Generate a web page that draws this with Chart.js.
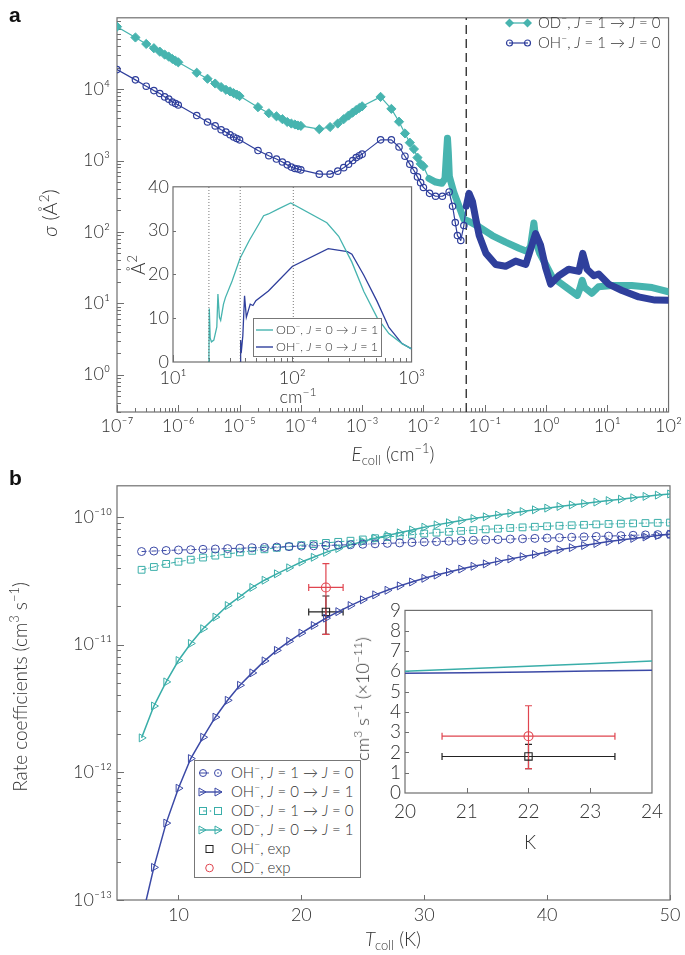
<!DOCTYPE html>
<html>
<head>
<meta charset="utf-8">
<script src="https://cdn.jsdelivr.net/npm/chart.js@4.4.1/dist/chart.umd.min.js"></script>
<style>
  body { margin: 0; background: #fff; }
  #page { position: relative; width: 685px; height: 955px; overflow: hidden; font-family: Lato, "Open Sans", sans-serif; font-weight: 300; color: #333; }
  canvas { position: absolute; }
  .lab { position: absolute; white-space: nowrap; line-height: 1; transform: translate(-50%, -50%); }
  .rot { transform: translate(-50%, -50%) rotate(-90deg); }
  .panel { position: absolute; font: bold 21px "Liberation Sans", Arial, sans-serif; color: #111; }
  .row { position: absolute; display: flex; align-items: center; white-space: nowrap; line-height: 1; }
  .row svg { flex: none; }
  .box { position: absolute; border: 1px solid #777; background: #fff; }
  sup, sub { font-size: 68%; line-height: 0; }
</style>
</head>
<body>
<div id="page">
  <canvas id="cA" width="685" height="470" style="left:0;top:0"></canvas>
  <canvas id="cAi" width="310" height="240" style="left:120px;top:172px"></canvas>
  <canvas id="cB" width="685" height="485" style="left:0;top:470px"></canvas>
  <canvas id="cBi" width="295" height="240" style="left:375px;top:595px"></canvas>

  <div class="panel" style="left:9px;top:3px">a</div>
  <div class="panel" style="left:9px;top:466px">b</div>

  <!-- panel a titles -->
  <div class="lab rot" style="left:49px;top:213px;font-size:20px"><i>σ</i> (Å<sup>2</sup>)</div>
  <div class="lab" style="left:393px;top:453px;font-size:19px"><i>E</i><sub>coll</sub> (cm<sup>−1</sup>)</div>
  <div class="row" style="left:505px;top:15px;font-size:15px">
    <svg width="28" height="12"><line x1="4.5" y1="6" x2="22.5" y2="6" stroke="#47b4af" stroke-width="1.3"/><polygon points="4.5,1.5 9,6 4.5,10.5 0,6" fill="#47b4af"/><polygon points="22.5,1.5 27,6 22.5,10.5 18,6" fill="#47b4af"/></svg>
    <span style="margin-left:5px">OD<sup>−</sup>, <i>J</i> = 1 → <i>J</i> = 0</span>
  </div>
  <div class="row" style="left:505px;top:35px;font-size:15px">
    <svg width="28" height="12"><line x1="4" y1="6" x2="23" y2="6" stroke="#2f3f9c" stroke-width="1.2"/><circle cx="4.5" cy="6" r="3" fill="none" stroke="#2f3f9c" stroke-width="1.2"/><circle cx="22.5" cy="6" r="3" fill="none" stroke="#2f3f9c" stroke-width="1.2"/></svg>
    <span style="margin-left:5px">OH<sup>−</sup>, <i>J</i> = 1 → <i>J</i> = 0</span>
  </div>

  <!-- inset a titles and legend -->
  <div class="lab rot" style="left:137px;top:265px;font-size:19px">Å<sup>2</sup></div>
  <div class="lab" style="left:298px;top:396px;font-size:18px">cm<sup>−1</sup></div>
  <div class="box" style="left:253px;top:318px;width:127px;height:37px"></div>
  <div class="row" style="left:256px;top:324px;font-size:12.5px">
    <svg width="17" height="8"><line x1="0" y1="4" x2="17" y2="4" stroke="#47b4af" stroke-width="1.4"/></svg>
    <span style="margin-left:3px">OD<sup>−</sup>, <i>J</i> = 0 → <i>J</i> = 1</span>
  </div>
  <div class="row" style="left:256px;top:341px;font-size:12.5px">
    <svg width="17" height="8"><line x1="0" y1="4" x2="17" y2="4" stroke="#2f3f9c" stroke-width="1.4"/></svg>
    <span style="margin-left:3px">OH<sup>−</sup>, <i>J</i> = 0 → <i>J</i> = 1</span>
  </div>

  <!-- panel b titles and legend -->
  <div class="lab rot" style="left:19px;top:687px;font-size:19px">Rate coefficients (cm<sup>3</sup> s<sup>−1</sup>)</div>
  <div class="lab" style="left:393px;top:938px;font-size:19px"><i>T</i><sub>coll</sub> (K)</div>
  <div class="box" style="left:194px;top:760px;width:165px;height:116px"></div>
  <div class="row" style="left:198px;top:765px;font-size:15px">
    <svg width="26" height="12"><line x1="1" y1="6" x2="11" y2="6" stroke="#3b49a6" stroke-width="1"/><circle cx="5" cy="6" r="3.5" fill="none" stroke="#3b49a6"/><circle cx="20" cy="6" r="3.5" fill="none" stroke="#3b49a6"/><circle cx="20" cy="6" r="0.8" fill="#3b49a6"/></svg>
    <span style="margin-left:7px">OH<sup>−</sup>, <i>J</i> = 1 → <i>J</i> = 0</span>
  </div>
  <div class="row" style="left:198px;top:784px;font-size:15px">
    <svg width="26" height="12"><line x1="2" y1="6" x2="24" y2="6" stroke="#3b49a6" stroke-width="1.4"/><polygon points="1,2 8,6 1,10" fill="none" stroke="#3b49a6"/><polygon points="17,2 24,6 17,10" fill="none" stroke="#3b49a6"/></svg>
    <span style="margin-left:7px">OH<sup>−</sup>, <i>J</i> = 0 → <i>J</i> = 1</span>
  </div>
  <div class="row" style="left:198px;top:803px;font-size:15px">
    <svg width="26" height="12"><rect x="1.5" y="2.5" width="7" height="7" fill="none" stroke="#3aaea9"/><line x1="5" y1="6" x2="9" y2="6" stroke="#3aaea9"/><circle cx="12.5" cy="6" r="0.8" fill="#3aaea9"/><rect x="16.5" y="2.5" width="7" height="7" fill="none" stroke="#3aaea9"/></svg>
    <span style="margin-left:7px">OD<sup>−</sup>, <i>J</i> = 1 → <i>J</i> = 0</span>
  </div>
  <div class="row" style="left:198px;top:822px;font-size:15px">
    <svg width="26" height="12"><line x1="2" y1="6" x2="24" y2="6" stroke="#3aaea9" stroke-width="1.4"/><polygon points="1,2 8,6 1,10" fill="none" stroke="#3aaea9"/><polygon points="17,2 24,6 17,10" fill="none" stroke="#3aaea9"/></svg>
    <span style="margin-left:7px">OD<sup>−</sup>, <i>J</i> = 0 → <i>J</i> = 1</span>
  </div>
  <div class="row" style="left:198px;top:841px;font-size:15px">
    <svg width="26" height="12"><rect x="8" y="2.5" width="7" height="7" fill="none" stroke="#222"/></svg>
    <span style="margin-left:7px">OH<sup>−</sup>, exp</span>
  </div>
  <div class="row" style="left:198px;top:860px;font-size:15px">
    <svg width="26" height="12"><circle cx="11.5" cy="6" r="3.8" fill="none" stroke="#e0454f"/></svg>
    <span style="margin-left:7px">OD<sup>−</sup>, exp</span>
  </div>

  <!-- inset b titles -->
  <div class="lab rot" style="left:362px;top:699px;font-size:18px">cm<sup>3</sup> s<sup>−1</sup> (×10<sup>−11</sup>)</div>
  <div class="lab" style="left:530px;top:841px;font-size:19px">K</div>
</div>

<script>
// ---- panel a: cross sections, J = 1 -> J = 0 (cm^-1, Å^2)
const odE = [1e-7, 2e-7, 3e-7, 4e-7, 5e-7, 6e-7, 7e-7, 8e-7, 9e-7,
  1e-6, 2e-6, 3e-6, 4e-6, 5e-6, 6e-6, 7e-6, 8e-6, 9e-6,
  1e-5, 2e-5, 3e-5, 4e-5, 5e-5, 6e-5, 7e-5, 8e-5, 9e-5,
  1e-4, 2e-4, 3e-4, 4e-4, 5e-4, 6e-4, 7e-4, 8e-4, 9e-4,
  1e-3, 2e-3, 3e-3, 4e-3, 5e-3, 6e-3, 7e-3, 8e-3, 9e-3,
  0.01, 0.0123, 0.0158, 0.02, 0.0225, 0.024, 0.0247, 0.0255, 0.0265, 0.0316, 0.038, 0.0457,
  0.056, 0.081, 0.133, 0.219, 0.363, 0.495, 0.56, 0.635, 0.69, 0.79, 0.99, 1.26, 2.09,
  3.24, 3.55, 3.9, 4.27, 5.6, 7.2, 12, 25, 54, 100];
const odSigma = [75000, 53000, 43000, 37500, 33500, 30500, 28500, 26500, 25000,
  23800, 17000, 14000, 12000, 10700, 9800, 9300, 8800, 8400,
  8000, 5600, 4600, 4170, 3800, 3470, 3300, 3200, 3100,
  3060, 2750, 2950, 3300, 3800, 4270, 4700, 5100, 5450,
  5750, 7800, 5300, 3500, 2400, 1780, 1450, 1100, 900,
  830, 560, 500, 480, 560, 1400, 2050, 1300, 600, 350, 230, 150,
  140, 118, 89, 72, 59, 53, 63, 133, 71, 50, 35, 23.4, 17,
  12.9, 15.8, 21, 16.6, 13.8, 17, 17.8, 17.8, 16.6, 14.5];
const ohE = [1e-7, 2e-7, 3e-7, 4e-7, 5e-7, 6e-7, 7e-7, 8e-7, 9e-7,
  1e-6, 2e-6, 3e-6, 4e-6, 5e-6, 6e-6, 7e-6, 8e-6, 9e-6,
  1e-5, 2e-5, 3e-5, 4e-5, 5e-5, 6e-5, 7e-5, 8e-5, 9e-5,
  1e-4, 2e-4, 3e-4, 4e-4, 5e-4, 6e-4, 7e-4, 8e-4, 9e-4,
  1e-3, 2e-3, 3e-3, 4e-3, 5e-3, 6e-3, 7e-3, 8e-3, 9e-3,
  0.01, 0.0126, 0.0158, 0.0204, 0.0263, 0.0299, 0.0331, 0.0359, 0.0407, 0.0457, 0.05,
  0.0556, 0.063, 0.0716, 0.0813, 0.105, 0.151, 0.219, 0.32, 0.468, 0.676, 0.813, 0.986,
  1.19, 1.62, 2.34, 3.43, 3.98, 4.68, 6.03, 7.24, 10.5, 17.4, 32.4, 60, 100];
const ohSigma = [18800, 13500, 11000, 9550, 8700, 7800, 7250, 6600, 6300,
  6000, 4270, 3470, 3060, 2700, 2500, 2300, 2140, 2040,
  1950, 1380, 1170, 1050, 955, 870, 810, 775, 760,
  740, 645, 645, 710, 795, 890, 1000, 1100, 1170,
  1230, 1950, 1950, 1550, 1150, 890, 725, 590, 490,
  420, 347, 316, 316, 363, 229, 135, 89, 76, 123, 229,
  347, 269, 151, 89, 50, 35, 33, 39, 35, 95, 66, 31.6,
  18.6, 24.3, 30, 28, 50, 30, 24.3, 25.7, 18.6, 15.1, 12.3, 11.1, 11];
const thresholdE = 0.05;
const aDecadesX = [1e-7, 1e-6, 1e-5, 1e-4, 1e-3, 1e-2, 1e-1, 1, 10, 100];
const aDecadesY = [1, 10, 100, 1000, 10000];

// ---- inset a: J = 0 -> J = 1 (cm^-1, Å^2)
const insetOdE = [20, 20.15, 20.5, 21, 22, 23.3, 23.8, 24.5, 25.1, 26.5, 27.5, 31.3, 36.5, 43.7,
  52.5, 57.5, 63.1, 75.9, 97, 195, 245, 316, 398, 513, 646, 832, 1000];
const insetOdSigma = [0, 12.2, 5.5, 4.6, 5, 8, 15.5, 10.2, 9.5, 13.2, 14.7, 18.5, 23.7, 27.8,
  31.5, 33.4, 33.8, 34.9, 36.3, 31.8, 28.7, 22.8, 16.1, 10.2, 6.5, 4.2, 3];
const insetOhE = [36.6, 36.9, 37.3, 38.5, 39.8, 41.2, 44.4, 46.8, 49.5, 63.1, 100, 200, 290, 316,
  398, 513, 646, 832, 1000];
const insetOhSigma = [0, 5, 2, 6, 15.1, 10.2, 13.2, 12.9, 14, 16.2, 21.8, 25.9, 25.2, 24.6,
  19.8, 13.9, 7.9, 4.2, 3];
const insetThresholds = [20, 36.6, 102];

// ---- panel b: rate coefficients (units of 1e-11 cm^3 s^-1)
const RATE_UNIT = 1e-11;
const tColl = [7, 8, 9, 10, 11, 12, 13, 14, 15, 16, 17, 18, 19, 20, 21, 22, 23, 24, 25, 26, 27, 28,
  29, 30, 31, 32, 33, 34, 35, 36, 37, 38, 39, 40, 41, 42, 43, 44, 45, 46, 47, 48, 49, 50];
const ohDown = [5.35, 5.4, 5.45, 5.5, 5.53, 5.57, 5.6, 5.64, 5.68, 5.72, 5.76, 5.8, 5.85, 5.9, 5.93,
  5.97, 6.01, 6.05, 6.1, 6.15, 6.2, 6.25, 6.3, 6.35, 6.4, 6.45, 6.5, 6.55, 6.6, 6.65, 6.7, 6.74,
  6.78, 6.82, 6.87, 6.92, 6.97, 7.02, 7.07, 7.12, 7.17, 7.22, 7.26, 7.3];
const ohUp = [0.007, 0.018, 0.04, 0.075, 0.128, 0.188, 0.27, 0.366, 0.48, 0.6, 0.745, 0.9, 1.06,
  1.23, 1.41, 1.61, 1.81, 2.02, 2.24, 2.45, 2.66, 2.88, 3.09, 3.3, 3.5, 3.7, 3.9, 4.1, 4.28, 4.48,
  4.68, 4.88, 5.08, 5.3, 5.52, 5.74, 5.96, 6.18, 6.4, 6.6, 6.78, 6.96, 7.13, 7.3];
const odDown = [3.85, 4.05, 4.28, 4.45, 4.62, 4.8, 4.97, 5.12, 5.27, 5.42, 5.57, 5.72, 5.86, 6.0,
  6.12, 6.25, 6.37, 6.5, 6.65, 6.8, 6.95, 7.1, 7.25, 7.4, 7.52, 7.64, 7.76, 7.87, 7.98, 8.08, 8.18,
  8.27, 8.36, 8.44, 8.52, 8.59, 8.66, 8.73, 8.79, 8.84, 8.89, 8.94, 8.98, 9.02];
const odUp = [0.186, 0.33, 0.51, 0.75, 1.02, 1.33, 1.64, 2.02, 2.37, 2.8, 3.19, 3.58, 3.99, 4.43,
  4.82, 5.27, 5.65, 6.03, 6.4, 6.8, 7.15, 7.5, 7.9, 8.3, 8.65, 9.0, 9.35, 9.7, 10.0, 10.34, 10.68,
  11.0, 11.35, 11.7, 12.05, 12.4, 12.7, 13.05, 13.4, 13.75, 14.1, 14.45, 14.8, 15.1];
const expT = [22, 22];
const expTLo = [20.6, 20.6];
const expTHi = [23.4, 23.4];
const expRate = [1.8, 2.8];
const expRateLo = [1.2, 1.2];
const expRateHi = [2.4, 4.3];
const expLabels = ['OH−, exp', 'OD−, exp'];
const bDecadesY = [1e-13, 1e-12, 1e-11, 1e-10];
const bTicksX = [10, 20, 30, 40, 50];
const insetTRange = [20, 24];

// ---- styles
const TEAL = '#47b4af', BLUE = '#2f3f9c';
const TEAL_B = '#3aaea9', BLUE_B = '#3b49a6';
const EXP_COLORS = ['#222222', '#e0454f'];
const AXIS = '#6f6f6f';
Chart.defaults.font.family = 'Lato, "Open Sans", sans-serif';
Chart.defaults.font.weight = '300';
Chart.defaults.color = '#333';

const SUP = { '-': '⁻', '0': '⁰', '1': '¹', '2': '²', '3': '³', '4': '⁴', '5': '⁵', '6': '⁶', '7': '⁷', '8': '⁸', '9': '⁹' };
const powLabel = v => '10' + String(Math.round(Math.log10(v))).replace(/[-0-9]/g, c => SUP[c]);
const zip = (xs, ys, k = 1) => xs.map((x, i) => ({ x, y: ys[i] * k }));

function logTicks(e0, e1) {
  const out = [];
  for (let e = e0; e <= e1; e++) for (let m = 1; m <= 9; m++) out.push([m * Math.pow(10, e), m === 1 ? 7 : 4]);
  return out;
}
const linTicks = (vals, len) => vals.map(v => [v, len]);

// box round the plot area plus inward tick marks on the left and bottom axes
function framePlugin(opts) {
  return {
    id: 'frame',
    beforeDraw(chart) {
      if (!opts.fill) return;
      const { ctx, chartArea: a } = chart;
      ctx.save();
      ctx.fillStyle = opts.fill;
      ctx.fillRect(a.left, a.top, a.width, a.height);
      ctx.restore();
    },
    beforeDatasetsDraw(chart) {
      const { ctx, chartArea: a, scales: { x, y } } = chart;
      ctx.save();
      ctx.strokeStyle = AXIS;
      ctx.lineWidth = 1.2;
      ctx.strokeRect(a.left, a.top, a.width, a.height);
      ctx.lineWidth = 1;
      ctx.beginPath();
      for (const [v, len] of opts.xTicks) {
        const p = Math.round(x.getPixelForValue(v)) + 0.5;
        if (p < a.left - 1 || p > a.right + 1) continue;
        ctx.moveTo(p, a.bottom); ctx.lineTo(p, a.bottom - len);
      }
      for (const [v, len] of opts.yTicks) {
        const p = Math.round(y.getPixelForValue(v)) + 0.5;
        if (p < a.top - 1 || p > a.bottom + 1) continue;
        ctx.moveTo(a.left, p); ctx.lineTo(a.left + len, p);
      }
      ctx.stroke();
      ctx.restore();
    }
  };
}

// horizontal and vertical error bars for the experimental points
function errorBarPlugin(k) {
  return {
    id: 'errbars',
    beforeDatasetsDraw(chart) {
      const { ctx, scales: { x, y } } = chart;
      ctx.save();
      ctx.lineWidth = 1.2;
      expT.forEach((t, i) => {
        const px = x.getPixelForValue(t), py = y.getPixelForValue(expRate[i] * k);
        const x0 = x.getPixelForValue(expTLo[i]), x1 = x.getPixelForValue(expTHi[i]);
        const y0 = y.getPixelForValue(expRateLo[i] * k), y1 = y.getPixelForValue(expRateHi[i] * k);
        ctx.strokeStyle = EXP_COLORS[i];
        ctx.beginPath();
        ctx.moveTo(x0, py); ctx.lineTo(x1, py);
        ctx.moveTo(x0, py - 3.5); ctx.lineTo(x0, py + 3.5);
        ctx.moveTo(x1, py - 3.5); ctx.lineTo(x1, py + 3.5);
        ctx.moveTo(px, y0); ctx.lineTo(px, y1);
        ctx.moveTo(px - 3.5, y0); ctx.lineTo(px + 3.5, y0);
        ctx.moveTo(px - 3.5, y1); ctx.lineTo(px + 3.5, y1);
        ctx.stroke();
      });
      ctx.restore();
    }
  };
}

function axis(type, min, max, size, ticksAt, pad, fontSize, label) {
  return {
    type, min, max,
    afterFit: s => { if (s.isHorizontal()) s.height = size; else s.width = size; },
    afterBuildTicks: s => { s.ticks = ticksAt.map(value => ({ value })); },
    ticks: { autoSkip: false, maxRotation: 0, padding: pad, font: { size: fontSize }, color: '#333', callback: label },
    grid: { display: false, drawTicks: false },
    border: { display: false }
  };
}
const baseOptions = (padTop, padRight, scales) => ({
  responsive: false, animation: false, devicePixelRatio: 1,
  layout: { padding: { top: padTop, right: padRight, left: 0, bottom: 0 } },
  plugins: { legend: { display: false }, tooltip: { enabled: false } },
  events: [],
  scales
});

// ---- panel a
const teal = { DENSE: 0.0105 }, blue = { DENSE: 0.048 };
new Chart(document.getElementById('cA'), {
  type: 'line',
  data: {
    datasets: [
      {
        label: 'OH−, J = 1 → J = 0', data: zip(ohE, ohSigma), order: 0,
        borderColor: BLUE, borderWidth: 1.2, borderJoinStyle: 'round', borderCapStyle: 'round',
        pointStyle: 'circle', pointBorderColor: BLUE, pointBackgroundColor: 'rgba(0,0,0,0)', pointBorderWidth: 1.2,
        pointRadius: c => c.parsed && c.parsed.x >= blue.DENSE ? 0 : 3.2,
        segment: { borderWidth: c => c.p0.parsed.x >= blue.DENSE ? 7 : 1.2 }
      },
      {
        label: 'OD−, J = 1 → J = 0', data: zip(odE, odSigma), order: 1,
        borderColor: TEAL, borderWidth: 1.2, borderJoinStyle: 'round', borderCapStyle: 'round',
        pointStyle: 'rectRot', pointBorderColor: TEAL, pointBackgroundColor: TEAL, pointBorderWidth: 1,
        pointRadius: c => c.parsed && c.parsed.x >= teal.DENSE ? 0 : 4.6,
        segment: { borderWidth: c => c.p0.parsed.x >= teal.DENSE ? 7 : 1.2 }
      },
      {
        label: 'threshold', data: [{ x: thresholdE, y: 0.3 }, { x: thresholdE, y: 1e5 }], order: 2,
        borderColor: '#333', borderWidth: 1.4, borderDash: [9, 5], pointRadius: 0
      }
    ]
  },
  options: baseOptions(6, 15, {
    x: axis('logarithmic', 1e-7, 100, 58, aDecadesX, 3, 18, v => powLabel(v)),
    y: axis('logarithmic', 0.3, 1e5, 117, aDecadesY, 7, 18, v => powLabel(v))
  }),
  plugins: [framePlugin({ xTicks: logTicks(-7, 1), yTicks: logTicks(-1, 4) })]
});

// ---- inset a
new Chart(document.getElementById('cAi'), {
  type: 'line',
  data: {
    datasets: [
      ...insetThresholds.map(e => ({
        data: [{ x: e, y: 0 }, { x: e, y: 40 }], borderColor: '#555', borderWidth: 0.8, borderDash: [1, 2], pointRadius: 0
      })),
      { label: 'OD−, J = 0 → J = 1', data: zip(insetOdE, insetOdSigma), borderColor: TEAL, borderWidth: 1.3, pointRadius: 0 },
      { label: 'OH−, J = 0 → J = 1', data: zip(insetOhE, insetOhSigma), borderColor: BLUE, borderWidth: 1.3, pointRadius: 0 }
    ]
  },
  options: baseOptions(11, 9, {
    x: axis('logarithmic', 10, 1000, 50, [10, 100, 1000], 5, 18, v => powLabel(v)),
    y: axis('linear', 0, 40, 53, [0, 10, 20, 30, 40], 4, 18, v => String(v))
  }),
  plugins: [framePlugin({ fill: '#fff', xTicks: logTicks(1, 2), yTicks: linTicks([10, 20, 30], 3) })]
});

// ---- panel b
const expDatasets = k => expT.map((t, i) => ({
  label: expLabels[i], data: [{ x: t, y: expRate[i] * k }], showLine: false,
  pointStyle: i === 0 ? 'rect' : 'circle', pointRadius: i === 0 ? 5.2 : 4.5,
  pointBorderColor: EXP_COLORS[i], pointBackgroundColor: 'rgba(0,0,0,0)', pointBorderWidth: 1.1
}));
new Chart(document.getElementById('cB'), {
  type: 'line',
  data: {
    datasets: [
      {
        label: 'OH−, J = 1 → J = 0', data: zip(tColl, ohDown, RATE_UNIT),
        borderColor: BLUE_B, borderWidth: 1, borderDash: [5, 2, 1, 2],
        pointStyle: 'circle', pointRadius: 4, pointBorderColor: BLUE_B, pointBackgroundColor: 'rgba(0,0,0,0)', pointBorderWidth: 1
      },
      {
        label: 'OH−, J = 0 → J = 1', data: zip(tColl, ohUp, RATE_UNIT),
        borderColor: BLUE_B, borderWidth: 1.5,
        pointStyle: 'triangle', pointRotation: 90, pointRadius: 4.6, pointBorderColor: BLUE_B, pointBackgroundColor: 'rgba(0,0,0,0)', pointBorderWidth: 1
      },
      {
        label: 'OD−, J = 1 → J = 0', data: zip(tColl, odDown, RATE_UNIT),
        borderColor: TEAL_B, borderWidth: 1, borderDash: [5, 2, 1, 2],
        pointStyle: 'rect', pointRadius: 4.8, pointBorderColor: TEAL_B, pointBackgroundColor: 'rgba(0,0,0,0)', pointBorderWidth: 1
      },
      {
        label: 'OD−, J = 0 → J = 1', data: zip(tColl, odUp, RATE_UNIT),
        borderColor: TEAL_B, borderWidth: 1.5,
        pointStyle: 'triangle', pointRotation: 90, pointRadius: 4.6, pointBorderColor: TEAL_B, pointBackgroundColor: 'rgba(0,0,0,0)', pointBorderWidth: 1
      },
      ...expDatasets(RATE_UNIT)
    ]
  },
  options: baseOptions(10, 15, {
    x: axis('linear', 5, 50, 55, bTicksX, 4, 18, v => String(v)),
    y: axis('logarithmic', 1e-13, 1.75e-10, 117, bDecadesY, 5, 18, v => powLabel(v))
  }),
  plugins: [errorBarPlugin(RATE_UNIT), framePlugin({ xTicks: linTicks(bTicksX, 5), yTicks: logTicks(-13, -10) })]
});

// ---- inset b
const inRange = (t) => t >= insetTRange[0] && t <= insetTRange[1];
const insetSeries = vals => tColl.map((t, i) => ({ x: t, y: vals[i] })).filter(p => inRange(p.x));
new Chart(document.getElementById('cBi'), {
  type: 'line',
  data: {
    datasets: [
      { label: 'OD−, J = 1 → J = 0', data: insetSeries(odDown), borderColor: TEAL_B, borderWidth: 1.5, pointRadius: 0 },
      { label: 'OH−, J = 1 → J = 0', data: insetSeries(ohDown), borderColor: BLUE_B, borderWidth: 1.5, pointRadius: 0 },
      ...expDatasets(1)
    ]
  },
  options: baseOptions(10, 15, {
    x: axis('linear', 20, 24, 42, [20, 21, 22, 23, 24], 7, 19, v => String(v)),
    y: axis('linear', 0, 9, 30, [0, 1, 2, 3, 4, 5, 6, 7, 8, 9], 4, 19, v => String(v))
  }),
  plugins: [framePlugin({ fill: '#fff', xTicks: linTicks([21, 22, 23], 5), yTicks: linTicks([1, 2, 3, 4, 5, 6, 7, 8], 4) }), errorBarPlugin(1)]
});
</script>
</body>
</html>
